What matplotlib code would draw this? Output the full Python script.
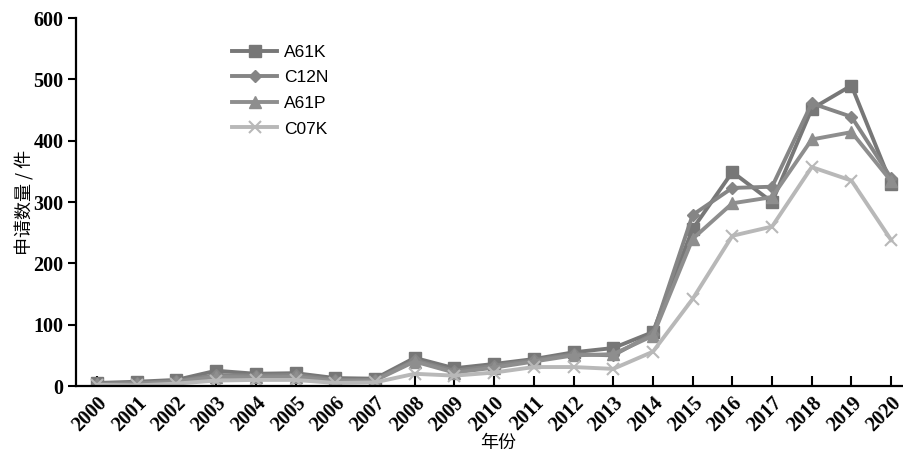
import matplotlib
matplotlib.use("Agg")
import matplotlib.pyplot as plt

years = list(range(2000, 2021))
a61k = [5, 7, 10, 25, 20, 21, 13, 12, 46, 29, 36, 44, 55, 62, 88, 256, 349, 300, 452, 490, 330]
c12n = [4, 5, 8, 18, 17, 18, 10, 10, 42, 25, 33, 42, 52, 50, 85, 279, 323, 325, 461, 439, 339]
a61p = [3, 4, 7, 15, 14, 15, 8, 9, 40, 22, 30, 40, 50, 52, 82, 240, 298, 308, 402, 414, 334]
c07k = [2, 1, 4, 9, 10, 10, 5, 6, 20, 17, 22, 31, 31, 28, 56, 142, 245, 260, 357, 335, 238]
yticks = [0, 100, 200, 300, 400, 500, 600]

fig = plt.figure(figsize=(9.04, 4.51), dpi=100)
ax = fig.add_axes([0.084, 0.144, 0.915, 0.816])

ax.plot(years, a61k, color="#777777", lw=2.8, marker="s", ms=9, label="A61K")
ax.plot(years, c12n, color="#858585", lw=2.8, marker="D", ms=6.5, label="C12N")
ax.plot(years, a61p, color="#8e8e8e", lw=2.8, marker="^", ms=8.5, label="A61P")
ax.plot(years, c07k, color="#b8b8b8", lw=2.8, marker="x", ms=9, mew=1.5, label="C07K")

ax.set_xlim(1999.47, 2020.3)
ax.set_ylim(0, 600)
ax.set_xticks(years)
ax.set_yticks(yticks)
serif = {"family": "Liberation Serif", "weight": "bold", "size": 14.5}
ax.set_xticklabels([str(y) for y in years], fontdict=serif, rotation=45, ha="right",
                   rotation_mode="anchor")
ax.set_yticklabels([str(v) for v in yticks], fontdict=serif)
ax.tick_params(axis="x", direction="in", length=7, width=1.5, pad=5)
ax.tick_params(axis="y", direction="out", length=6, width=1.5, pad=3)
for s in ["top", "right"]:
    ax.spines[s].set_visible(False)
for s in ["left", "bottom"]:
    ax.spines[s].set_linewidth(1.6)

ax.set_xlabel("年份", fontfamily=["Noto Sans CJK SC", "DejaVu Sans"], fontsize=13, va="center")
ax.xaxis.set_label_coords(0.51, -0.155)
ax.set_ylabel("申请数量 / 件", fontfamily=["Noto Sans CJK SC", "DejaVu Sans"], fontsize=13, labelpad=-1)

leg = ax.legend(loc="upper left", bbox_to_anchor=(0.17, 0.97), frameon=False,
                prop={"family": "Liberation Sans", "size": 12.5}, handlelength=2.6,
                labelspacing=0.6, handletextpad=0.4)

fig.savefig("out.png", dpi=100)
